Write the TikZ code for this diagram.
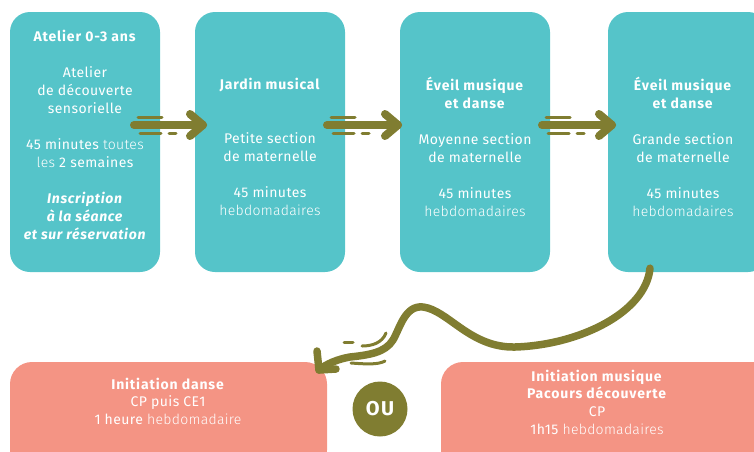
\documentclass[tikz,border=0pt]{standalone}
\usepackage{fontspec}
\setmainfont{Fira Sans}[LetterSpace=3, BoldFeatures={LetterSpace=6}, BoldItalicFeatures={LetterSpace=5}]
\newfontfamily\lightf{Fira Sans Light}[LetterSpace=2]
\usetikzlibrary{calc}
\definecolor{myteal}{HTML}{55C4C9}
\definecolor{mysalmon}{HTML}{F49484}
\definecolor{myolive}{HTML}{807D31}
\begin{document}
\begin{tikzpicture}[x=1pt,y=-1pt,
  tealbox/.style={fill=myteal, rounded corners=20pt, inner sep=0pt, minimum width=150pt, minimum height=260pt},
  salbox/.style={fill=mysalmon, rounded corners=22pt, inner sep=0pt},
  txt/.style={text=white, align=center, inner sep=0pt, font=\fontsize{14}{18}\selectfont},
  shaft/.style={draw=myolive, line width=8pt, line cap=round, line join=round},
  dashln/.style={draw=myolive, line width=3pt, line cap=round},
  curvy/.style={draw=myolive, line width=7.5pt, line cap=round, line join=round}]
\useasboundingbox (0,0) rectangle (754,451);
\clip (0,0) rectangle (754,451);
% boxes
\node[tealbox] (b1) at (85,142) {};
\node[tealbox] (b2) at (270,142) {};
\node[tealbox] (b3) at (475,142) {};
\node[tealbox, minimum width=160pt] (b4) at (688,142) {};
\node[salbox, minimum width=317pt, minimum height=110pt] (c1) at (168.5,417) {};
\node[salbox, minimum width=340pt, minimum height=110pt] (c2) at (611,417) {};
% texts
\node[txt] (t1) at (85,135) {\textbf{Atelier 0-3 ans}\\[18pt]
  Atelier\\ de découverte\\ sensorielle\\[18pt]
  45 minutes {\lightf toutes}\\ {\lightf les} 2 semaines\\[18pt]
  \textbf{\itshape Inscription}\\ \textbf{\itshape à la séance}\\ \textbf{\itshape et sur réservation}};
\node[txt] (t2) at (270,147) {\textbf{Jardin musical}\\[36pt]
  Petite section\\ de maternelle\\[18pt]
  45 minutes\\ {\lightf hebdomadaires}};
\node[txt] (t3) at (475,147) {\textbf{Éveil musique}\\ \textbf{et danse}\\[18pt]
  Moyenne section\\ de maternelle\\[18pt]
  45 minutes\\ {\lightf hebdomadaires}};
\node[txt] (t4) at (683,147) {\textbf{Éveil musique}\\ \textbf{et danse}\\[18pt]
  Grande section\\ de maternelle\\[18pt]
  45 minutes\\ {\lightf hebdomadaires}};
\node[txt, font=\fontsize{14}{17.5}\selectfont] (t5) at (168,401) {\textbf{Initiation danse}\\
  CP puis CE1\\ 1 heure {\lightf hebdomadaire}};
\node[txt, font=\fontsize{14}{17.7}\selectfont] (t6) at (597,402) {\textbf{Initiation musique}\\
  \textbf{Pacours découverte}\\ CP\\ 1h15 {\lightf hebdomadaires}};
% OU
\node[circle, fill=myolive, minimum size=55pt, inner sep=0pt, text=white,
  font=\bfseries\fontsize{20}{20}\selectfont] (ou) at (380,409) {OU};
% straight arrows
\foreach \s/\t [count=\i] in {134/203, 327/398, 542/612}{
  \coordinate (s\i) at (\s,125);
  \coordinate (e\i) at (\t,125);
  \draw[shaft] (s\i) -- (e\i);
  \draw[shaft] ($(e\i)+(-13,-11)$) -- (e\i) -- ($(e\i)+(-13,11)$);
  \draw[dashln] ($(s\i)+(4,-8)$) -- ++(24,0);
  \draw[dashln] ($(s\i)+(6,8)$) -- ++(21,0);
  \draw[dashln] ($(s\i)+(35,8)$) -- ++(7,0);
}
% curvy arrow
\coordinate (cs) at ($(b4.south)+(-38,-4)$);
\coordinate (ce) at (319,370);
\draw[curvy] (cs) .. controls (646,312) and (580,345) .. (515,347)
  .. controls (470,348) and (448,310) .. (423,307)
  .. controls (405,305) and (400,328) .. (393,340)
  .. controls (385,353) and (368,355) .. (350,357)
  .. controls (338,359) and (326,364) .. (ce);
\draw[curvy] ($(ce)+(-2,-19)$) -- (ce) -- ($(ce)+(17,-1)$);
\draw[dashln] (344,342) -- (353,342);
\draw[dashln] (362,346) .. controls (372,346) and (382,343) .. (386,333);
\draw[dashln] (351,363) .. controls (365,364) and (378,365) .. (385,361);
\end{tikzpicture}
\end{document}
